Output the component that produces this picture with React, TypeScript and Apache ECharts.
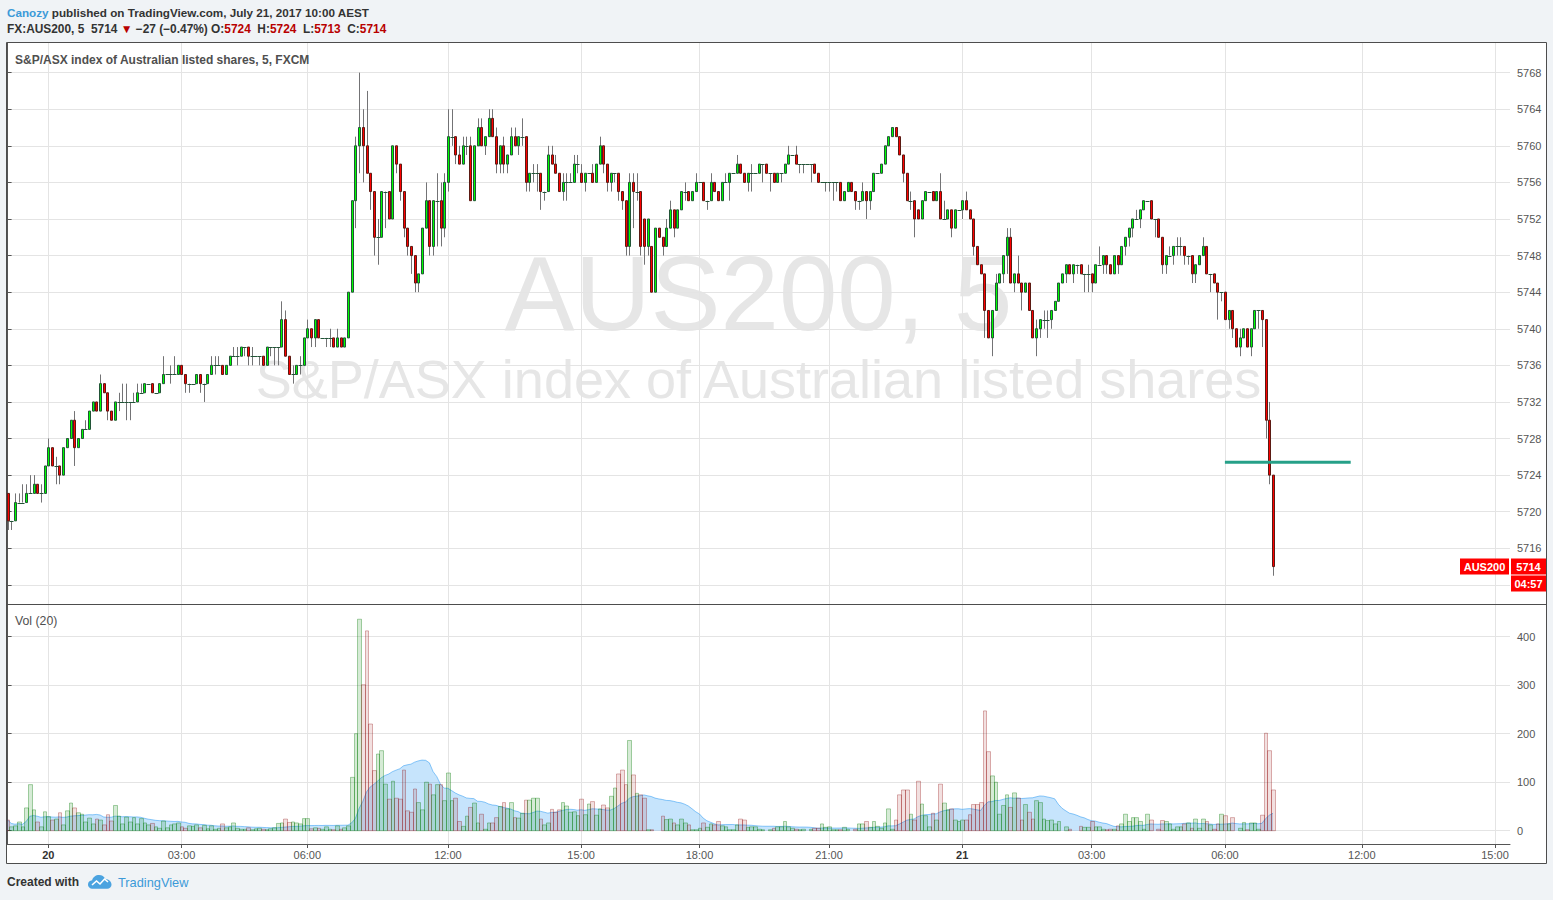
import React, { useEffect, useRef } from 'react';
import * as echarts from 'echarts';

// ---------- data ----------
const opens = [
  5722,5719,5719,5721,5721,5721,5722,5722,5723,5722,
  5722,5725,5727,5725,5725,5724,5727,5728,5730,5727,
  5728,5729,5729,5731,5732,5731,5734,5733,5731,5730,
  5732,5732,5732,5732,5732,5732,5733,5733,5734,5734,
  5733,5733,5734,5735,5735,5735,5735,5736,5735,5734,
  5734,5734,5735,5734,5734,5735,5736,5736,5736,5735,
  5736,5737,5737,5737,5738,5738,5737,5737,5737,5737,
  5736,5738,5738,5738,5738,5741,5737,5735,5735,5736,
  5736,5739,5740,5739,5741,5739,5739,5739,5739,5738,
  5739,5738,5739,5744,5754,5760,5762,5760,5757,5755,
  5750,5750,5755,5755,5752,5760,5758,5755,5751,5749,
  5748,5745,5746,5751,5754,5749,5754,5754,5751,5756,
  5761,5761,5759,5758,5760,5760,5754,5760,5762,5760,
  5761,5763,5761,5758,5760,5758,5759,5761,5760,5761,
  5761,5756,5757,5757,5757,5755,5755,5759,5758,5757,
  5755,5756,5756,5756,5758,5757,5756,5757,5757,5756,
  5758,5760,5758,5756,5757,5757,5755,5754,5749,5756,
  5755,5755,5752,5749,5749,5744,5751,5750,5749,5751,
  5753,5751,5753,5755,5755,5754,5755,5756,5756,5754,
  5754,5756,5755,5754,5756,5756,5757,5757,5758,5757,
  5756,5757,5757,5757,5758,5758,5757,5757,5756,5757,
  5757,5758,5759,5759,5758,5758,5758,5758,5758,5757,
  5756,5756,5756,5756,5756,5756,5754,5755,5756,5755,
  5754,5754,5755,5754,5755,5757,5757,5758,5760,5761,
  5762,5761,5759,5757,5754,5754,5753,5752,5754,5755,
  5755,5754,5755,5752,5752,5753,5751,5753,5753,5754,
  5753,5752,5749,5747,5746,5742,5739,5742,5745,5746,
  5748,5750,5745,5746,5745,5744,5745,5742,5739,5740,
  5741,5741,5741,5742,5743,5745,5746,5747,5746,5747,
  5747,5746,5746,5746,5745,5747,5747,5748,5747,5746,
  5748,5747,5749,5750,5751,5752,5752,5753,5754,5754,
  5752,5752,5750,5747,5748,5748,5749,5749,5749,5748,
  5748,5746,5747,5748,5749,5746,5746,5745,5744,5744,
  5741,5742,5740,5738,5739,5740,5738,5740,5742,5742,
  5741,5730,5724,
];
const highs = [
  5722,5719,5722,5722,5723,5723,5724,5724,5723,5723,
  5725,5728,5727,5726,5725,5727,5728,5730,5731,5728,
  5729,5730,5731,5732,5732,5735,5734,5733,5731,5732,
  5733,5734,5734,5732,5733,5734,5734,5734,5734,5734,
  5733,5734,5737,5735,5736,5737,5736,5736,5735,5734,
  5734,5735,5735,5734,5735,5737,5737,5737,5736,5736,
  5737,5738,5738,5738,5738,5738,5738,5737,5737,5737,
  5738,5738,5738,5738,5743,5742,5737,5736,5736,5737,
  5739,5741,5740,5741,5741,5739,5739,5740,5739,5740,
  5739,5739,5744,5754,5761,5768,5764,5766,5757,5755,
  5752,5755,5755,5755,5760,5760,5758,5755,5751,5749,
  5748,5746,5751,5756,5754,5754,5757,5756,5757,5764,
  5764,5761,5760,5761,5761,5761,5760,5763,5763,5761,
  5764,5764,5762,5760,5761,5759,5762,5762,5761,5763,
  5761,5757,5758,5758,5757,5755,5760,5760,5759,5757,
  5757,5757,5757,5759,5759,5758,5757,5757,5758,5758,
  5761,5760,5758,5757,5757,5757,5755,5754,5757,5757,
  5757,5755,5752,5752,5749,5751,5751,5750,5752,5754,
  5753,5753,5755,5756,5755,5755,5757,5756,5756,5754,
  5757,5756,5755,5756,5757,5757,5757,5759,5758,5757,
  5757,5758,5757,5758,5758,5758,5757,5757,5757,5757,
  5758,5760,5759,5760,5758,5758,5758,5758,5758,5757,
  5756,5756,5756,5756,5756,5756,5755,5756,5756,5755,
  5754,5756,5755,5755,5757,5757,5758,5760,5761,5762,
  5762,5761,5759,5757,5755,5754,5753,5754,5755,5755,
  5755,5755,5757,5754,5753,5753,5753,5753,5754,5755,
  5753,5752,5749,5747,5746,5742,5742,5746,5746,5748,
  5751,5751,5746,5748,5745,5745,5745,5742,5741,5741,
  5742,5742,5742,5743,5745,5746,5747,5747,5747,5747,
  5747,5746,5747,5746,5747,5749,5748,5748,5747,5748,
  5748,5749,5750,5751,5752,5753,5753,5754,5754,5754,
  5752,5752,5750,5748,5749,5749,5750,5750,5749,5748,
  5748,5747,5748,5750,5749,5746,5746,5745,5744,5744,
  5742,5742,5740,5740,5740,5740,5740,5742,5742,5742,
  5741,5732,5724,
];
const lows = [
  5718,5718,5719,5721,5721,5721,5722,5722,5722,5721,
  5722,5725,5725,5723,5723,5724,5727,5728,5725,5727,
  5728,5729,5729,5731,5731,5731,5733,5730,5730,5730,
  5731,5732,5730,5730,5732,5732,5733,5733,5734,5733,
  5733,5733,5734,5735,5734,5735,5735,5735,5733,5733,
  5734,5734,5733,5732,5734,5735,5735,5736,5735,5735,
  5736,5737,5736,5737,5737,5736,5736,5737,5736,5736,
  5736,5737,5736,5736,5738,5737,5735,5734,5735,5735,
  5736,5739,5738,5738,5739,5739,5738,5738,5738,5738,
  5738,5738,5739,5744,5751,5757,5756,5757,5753,5748,
  5747,5750,5751,5752,5752,5757,5754,5750,5748,5746,
  5744,5744,5746,5751,5748,5748,5749,5749,5750,5755,
  5760,5758,5758,5758,5759,5754,5754,5760,5760,5759,
  5761,5761,5757,5757,5757,5757,5759,5760,5759,5760,
  5755,5755,5756,5755,5753,5754,5755,5758,5757,5755,
  5754,5754,5756,5756,5757,5756,5755,5757,5756,5756,
  5758,5757,5755,5755,5756,5754,5753,5748,5748,5751,
  5754,5748,5747,5748,5744,5744,5750,5748,5749,5751,
  5750,5751,5753,5754,5754,5754,5755,5756,5754,5753,
  5754,5755,5754,5754,5756,5754,5757,5757,5757,5756,
  5755,5755,5757,5757,5756,5757,5755,5756,5756,5756,
  5757,5758,5759,5758,5757,5757,5758,5756,5757,5756,
  5756,5755,5755,5754,5755,5754,5754,5755,5755,5753,
  5753,5754,5752,5753,5755,5757,5757,5758,5760,5761,
  5761,5759,5756,5754,5753,5750,5752,5752,5754,5755,
  5754,5754,5752,5752,5752,5750,5751,5753,5752,5753,
  5752,5748,5747,5746,5739,5739,5737,5742,5745,5745,
  5746,5745,5744,5745,5742,5744,5742,5739,5737,5739,
  5740,5739,5740,5742,5743,5745,5745,5746,5745,5746,
  5746,5744,5744,5744,5745,5747,5746,5746,5746,5746,
  5746,5747,5748,5749,5750,5752,5751,5753,5754,5752,
  5750,5750,5746,5746,5748,5747,5748,5748,5747,5747,
  5745,5745,5747,5748,5746,5744,5745,5741,5743,5741,
  5740,5739,5738,5737,5739,5738,5737,5740,5740,5738,
  5728,5723,5713,
];
const closes = [
  5719,5719,5721,5721,5721,5722,5722,5723,5722,5722,
  5725,5727,5725,5725,5724,5727,5728,5730,5727,5728,
  5729,5729,5731,5732,5731,5734,5733,5731,5730,5732,
  5732,5732,5732,5732,5732,5733,5733,5734,5734,5733,
  5733,5734,5735,5735,5735,5735,5736,5735,5734,5734,
  5734,5735,5734,5734,5735,5736,5736,5736,5735,5736,
  5737,5737,5737,5738,5738,5737,5737,5737,5737,5736,
  5738,5738,5738,5738,5741,5737,5735,5735,5736,5736,
  5739,5740,5739,5741,5739,5739,5739,5739,5738,5739,
  5738,5739,5744,5754,5760,5762,5760,5757,5755,5750,
  5750,5755,5755,5752,5760,5758,5755,5751,5749,5748,
  5745,5746,5751,5754,5749,5754,5754,5751,5756,5761,
  5761,5759,5758,5760,5760,5754,5760,5762,5760,5761,
  5763,5761,5758,5760,5758,5759,5761,5760,5761,5761,
  5756,5757,5757,5757,5755,5755,5759,5758,5757,5755,
  5756,5756,5756,5758,5758,5756,5757,5757,5756,5758,
  5760,5758,5756,5757,5757,5755,5754,5749,5756,5755,
  5755,5749,5749,5752,5744,5751,5750,5749,5751,5753,
  5751,5753,5755,5755,5754,5755,5756,5756,5754,5754,
  5756,5755,5754,5756,5756,5757,5757,5758,5757,5756,
  5757,5757,5757,5758,5758,5757,5757,5756,5757,5757,
  5758,5759,5759,5758,5758,5758,5758,5758,5757,5756,
  5756,5756,5756,5756,5756,5754,5755,5756,5755,5754,
  5754,5755,5754,5755,5757,5757,5758,5760,5761,5762,
  5761,5759,5757,5754,5754,5752,5752,5754,5755,5755,
  5754,5755,5752,5752,5753,5751,5753,5753,5754,5753,
  5752,5749,5747,5746,5742,5739,5742,5745,5746,5748,
  5750,5745,5746,5745,5744,5745,5742,5739,5740,5741,
  5741,5741,5742,5743,5745,5746,5747,5746,5747,5747,
  5746,5746,5746,5745,5747,5747,5748,5747,5746,5748,
  5747,5749,5750,5751,5752,5752,5753,5754,5754,5752,
  5752,5750,5747,5748,5748,5749,5749,5749,5748,5748,
  5746,5747,5748,5749,5746,5746,5745,5744,5744,5741,
  5742,5740,5738,5739,5740,5738,5740,5742,5742,5741,
  5730,5724,5714,
];
const volumes = [
  22,8,10,18,8,47,95,43,18,8,
  39,29,22,24,37,12,41,57,47,37,
  34,18,26,14,24,22,12,33,20,52,
  30,14,28,18,27,14,25,16,12,15,
  8,5,20,6,12,14,16,8,5,10,
  9,12,6,11,4,10,3,5,14,6,
  8,16,5,3,3,6,2,4,5,3,
  2,4,6,15,16,24,17,18,16,14,
  25,25,4,6,5,3,8,3,2,10,
  3,6,10,110,200,436,301,412,220,124,
  158,165,96,65,102,67,65,125,41,38,
  86,58,43,100,96,74,95,95,62,119,
  62,67,19,9,30,48,57,16,34,3,
  16,16,27,50,58,45,58,27,26,36,
  63,63,67,67,24,12,16,44,38,43,
  58,51,38,39,31,65,33,55,60,32,
  45,53,47,71,88,117,125,95,186,115,
  77,74,67,2,2,0,0,30,23,24,
  16,12,24,16,12,2,2,5,16,7,
  14,12,19,10,8,2,2,12,24,22,
  7,8,8,3,2,0,2,5,8,8,
  19,8,5,3,2,3,0,3,5,5,
  14,7,8,2,2,2,7,3,0,3,
  14,14,19,7,19,9,5,16,45,3,
  22,74,84,84,34,22,102,55,31,8,
  36,22,96,57,43,45,22,19,22,22,
  33,54,54,58,247,163,113,100,34,52,
  74,48,78,67,22,54,38,24,62,58,
  24,21,22,14,19,0,8,3,0,0,
  9,7,7,19,8,8,3,2,3,3,
  10,14,34,19,27,27,19,3,34,22,
  0,3,21,19,14,3,8,8,14,16,
  5,24,5,24,19,12,3,14,34,31,
  14,27,0,5,17,2,16,16,3,32,
  201,165,84,
];

const priceTicks = [5712, 5716, 5720, 5724, 5728, 5732, 5736, 5740, 5744, 5748, 5752, 5756, 5760, 5764, 5768];
const volumeTicks = [0, 100, 200, 300, 400];
const timeTickIndex = [11, 47, 81, 119, 155, 187, 222, 258, 293, 329, 366, 402];
const timeTickLabels = ['20', '03:00', '06:00', '12:00', '15:00', '18:00', '21:00', '21', '03:00', '06:00', '12:00', '15:00'];
const dayLabels = ['20', '21'];
const maPeriod = 20;
const trendFromIdx = 329;
const trendToIdx = 363;
const trendPrice = 5725.4;

// ---------- layout / style ----------
const FONT = "'Liberation Sans', Arial, sans-serif";
const GRID_COLOR = '#e4e4e4';
const AXIS_COLOR = '#555';
const TEXT_COLOR = '#555';

const logoPath =
  'M5 15C2.2 15 0 13 0 10.4C0 8 1.8 6.2 4.2 6C5 2.6 8 0.5 11.3 0.5C14.2 0.5 16.7 2.2 17.8 4.8C21.2 4.9 24 7.5 24 10.8C24 13.2 22 15 19.6 15Z';
echarts.graphic.registerShape('tvCloud', echarts.graphic.extendPath(logoPath, {}) as any);

const lastIdx = closes.length - 1;
const lastOpen = opens[lastIdx];
const lastHigh = highs[lastIdx];
const lastLow = lows[lastIdx];
const lastClose = closes[lastIdx];

function buildOption(): any {
  const candleData = opens.map((o, i) => [i, o, closes[i], lows[i], highs[i]]);
  const volData = volumes.map((v, i) => [i, v, closes[i] >= opens[i] ? 1 : 0]);
  const maData = volumes.map((_, i) => {
    const s = Math.max(0, i - maPeriod + 1);
    let sum = 0;
    for (let k = s; k <= i; k++) sum += volumes[k];
    return [i, sum / (i - s + 1)];
  });
  const labelMap: Record<number, string> = {};
  timeTickIndex.forEach((idx, k) => (labelMap[idx] = timeTickLabels[k]));

  const xMin = (7 - 7.6) / 3.7;
  const xMax = (1510 - 7.6) / 3.7;

  const xCommon = {
    type: 'value',
    min: xMin,
    max: xMax,
    splitLine: { show: true, lineStyle: { color: GRID_COLOR, width: 1 } },
  };

  return {
    animation: false,
    backgroundColor: 'transparent',
    grid: [
      { left: 7, top: 43, width: 1503, height: 561 },
      { left: 7, top: 604, width: 1503, height: 240 },
    ],
    xAxis: [
      {
        ...xCommon,
        gridIndex: 0,
        axisLine: { show: false },
        axisTick: { show: false, customValues: timeTickIndex },
        axisLabel: { show: false, customValues: timeTickIndex },
      },
      {
        ...xCommon,
        gridIndex: 1,
        axisLine: { show: true, onZero: false, lineStyle: { color: AXIS_COLOR, width: 1 } },
        axisTick: { show: true, length: 4, customValues: timeTickIndex, lineStyle: { color: AXIS_COLOR } },
        axisLabel: {
          show: true,
          customValues: timeTickIndex,
          margin: 5,
          color: TEXT_COLOR,
          fontSize: 11,
          fontFamily: FONT,
          formatter: (v: number) => {
            const s = labelMap[Math.round(v)];
            if (!s) return '';
            return dayLabels.includes(s) ? `{b|${s}}` : s;
          },
          rich: { b: { fontWeight: 'bold', fontSize: 11, fontFamily: FONT, color: '#333' } },
        },
      },
    ],
    yAxis: [
      {
        type: 'value',
        gridIndex: 0,
        position: 'right',
        min: 5709.91,
        max: 5771.24,
        axisLine: { show: true, lineStyle: { color: AXIS_COLOR, width: 1 } },
        axisTick: { show: true, length: 4, customValues: priceTicks, lineStyle: { color: AXIS_COLOR } },
        axisLabel: {
          customValues: priceTicks,
          margin: 7,
          color: TEXT_COLOR,
          fontSize: 11,
          fontFamily: FONT,
          formatter: (v: number) => String(Math.round(v)),
        },
        splitLine: { show: true, lineStyle: { color: GRID_COLOR, width: 1 } },
      },
      {
        type: 'value',
        gridIndex: 1,
        position: 'right',
        min: -27.4,
        max: 467.4,
        axisLine: { show: true, lineStyle: { color: AXIS_COLOR, width: 1 } },
        axisTick: { show: true, length: 4, customValues: volumeTicks, lineStyle: { color: AXIS_COLOR } },
        axisLabel: {
          customValues: volumeTicks,
          margin: 7,
          color: TEXT_COLOR,
          fontSize: 11,
          fontFamily: FONT,
          formatter: (v: number) => String(Math.round(v)),
        },
        splitLine: { show: true, lineStyle: { color: GRID_COLOR, width: 1 } },
      },
    ],
    series: [
      {
        type: 'custom',
        name: 'AUS200',
        xAxisIndex: 0,
        yAxisIndex: 0,
        clip: true,
        z: 3,
        silent: true,
        data: candleData,
        encode: { x: 0, y: [1, 2, 3, 4] },
        renderItem: (_p: any, api: any) => {
          const i = api.value(0);
          const o = api.value(1);
          const c = api.value(2);
          const l = api.value(3);
          const h = api.value(4);
          const pO = api.coord([i, o]);
          const yC = api.coord([i, c])[1];
          const yL = api.coord([i, l])[1];
          const yH = api.coord([i, h])[1];
          const up = c >= o;
          const cx = Math.round(pO[0]) + 0.5;
          const top = Math.min(pO[1], yC);
          const bot = Math.max(pO[1], yC);
          const border = up ? '#225437' : '#5b1a13';
          const children: any[] = [];
          if (yL - yH > 0.5) {
            children.push({ type: 'line', shape: { x1: cx, y1: yH, x2: cx, y2: yL }, style: { stroke: '#737375', lineWidth: 1 } });
          }
          if (bot - top < 1) {
            const yy = Math.round(top) + 0.5;
            children.push({ type: 'line', shape: { x1: cx - 2, y1: yy, x2: cx + 2, y2: yy }, style: { stroke: border, lineWidth: 1 } });
          } else {
            children.push({
              type: 'rect',
              shape: { x: cx - 1, y: top, width: 2, height: bot - top },
              style: { fill: up ? '#00ff00' : '#ff0000', stroke: border, lineWidth: 1 },
            });
          }
          return { type: 'group', children };
        },
      },
      {
        type: 'line',
        name: 'trend',
        xAxisIndex: 0,
        yAxisIndex: 0,
        z: 4,
        silent: true,
        symbol: 'none',
        data: [[trendFromIdx, trendPrice], [trendToIdx, trendPrice]],
        lineStyle: { color: '#26a088', width: 3 },
      },
      {
        type: 'line',
        name: 'Vol MA',
        xAxisIndex: 1,
        yAxisIndex: 1,
        z: 1,
        silent: true,
        symbol: 'none',
        showSymbol: false,
        data: maData,
        lineStyle: { color: 'rgba(33,150,243,0.5)', width: 1 },
        areaStyle: { color: 'rgba(33,150,243,0.37)' },
      },
      {
        type: 'custom',
        name: 'Vol',
        xAxisIndex: 1,
        yAxisIndex: 1,
        clip: true,
        z: 2,
        silent: true,
        data: volData,
        encode: { x: 0, y: 1 },
        renderItem: (_p: any, api: any) => {
          const i = api.value(0);
          const v = api.value(1);
          const up = api.value(2) === 1;
          if (!(v > 0)) return null;
          const x0 = Math.round(api.coord([i - 0.5, 0])[0]);
          const x1 = Math.round(api.coord([i + 0.5, 0])[0]);
          const y0 = api.coord([i, 0])[1];
          const y1 = api.coord([i, v])[1];
          return {
            type: 'rect',
            shape: { x: x0 + 0.5, y: y1, width: Math.max(1, x1 - x0), height: y0 - y1 },
            style: {
              fill: up ? 'rgba(0,128,0,0.16)' : 'rgba(150,0,0,0.12)',
              stroke: up ? 'rgba(0,120,0,0.34)' : 'rgba(140,0,0,0.3)',
              lineWidth: 1,
            },
          };
        },
      },
    ],
  };
}

function buildGraphics(yLast: number): any[] {
  const g: any[] = [];
  // chart frame
  g.push({ type: 'rect', z: -10, silent: true, shape: { x: 6.5, y: 42.5, width: 1540, height: 821 }, style: { fill: '#ffffff', stroke: '#4d4d4d', lineWidth: 1 } });
  g.push({ type: 'line', z: 5, silent: true, shape: { x1: 7, y1: 604.5, x2: 1546, y2: 604.5 }, style: { stroke: '#4d4d4d', lineWidth: 1 } });
  // watermark
  g.push({ type: 'text', z: -5, silent: true, x: 758.5, y: 293, style: { text: 'AUS200, 5', fill: '#e6e6e6', font: `105px ${FONT}`, align: 'center', verticalAlign: 'middle' } });
  g.push({ type: 'text', z: -5, silent: true, x: 758.5, y: 379, style: { text: 'S&P/ASX index of Australian listed shares', fill: '#e6e6e6', font: `54px ${FONT}`, align: 'center', verticalAlign: 'middle' } });
  // header
  g.push({
    type: 'text', z: 10, silent: true, x: 7, y: 12,
    style: {
      text: '{u|Canozy} {t|published on TradingView.com, July 21, 2017 10:00 AEST}',
      font: `bold 11.7px ${FONT}`, fill: '#333', verticalAlign: 'middle', align: 'left',
      rich: {
        u: { fill: '#3c9ad8', font: `bold 11.7px ${FONT}` },
        t: { fill: '#333', font: `bold 11.7px ${FONT}` },
      },
    },
  });
  g.push({
    type: 'text', z: 10, silent: true, x: 7, y: 29,
    style: {
      text: `{t|FX:AUS200, 5  ${lastClose} }{r|▼}{t| −27 (−0.47%) O:}{r|${lastOpen}}{t|  H:}{r|${lastHigh}}{t|  L:}{r|${lastLow}}{t|  C:}{r|${lastClose}}`,
      font: `bold 11.9px ${FONT}`, fill: '#333', verticalAlign: 'middle', align: 'left',
      rich: {
        t: { fill: '#333', font: `bold 11.9px ${FONT}` },
        r: { fill: '#b80000', font: `bold 11.9px ${FONT}` },
      },
    },
  });
  // pane titles
  g.push({ type: 'text', z: 10, silent: true, x: 15, y: 60, style: { text: 'S&P/ASX index of Australian listed shares, 5, FXCM', fill: '#4f4f4f', font: `bold 12px ${FONT}`, verticalAlign: 'middle', align: 'left' } });
  g.push({ type: 'text', z: 10, silent: true, x: 15, y: 621, style: { text: 'Vol (20)', fill: '#4f4f4f', font: `12.3px ${FONT}`, verticalAlign: 'middle', align: 'left' } });
  // last price labels
  g.push({ type: 'rect', z: 100, silent: true, shape: { x: 1460, y: yLast - 8, width: 49, height: 16 }, style: { fill: '#ff0000' } });
  g.push({ type: 'text', z: 101, silent: true, x: 1484.5, y: yLast, style: { text: 'AUS200', fill: '#fff', font: `bold 11px ${FONT}`, align: 'center', verticalAlign: 'middle' } });
  g.push({ type: 'rect', z: 100, silent: true, shape: { x: 1511, y: yLast - 8, width: 35, height: 16 }, style: { fill: '#ff0000' } });
  g.push({ type: 'text', z: 101, silent: true, x: 1528.5, y: yLast, style: { text: String(lastClose), fill: '#fff', font: `bold 11px ${FONT}`, align: 'center', verticalAlign: 'middle' } });
  g.push({ type: 'rect', z: 100, silent: true, shape: { x: 1511, y: yLast + 9, width: 35, height: 16 }, style: { fill: '#ff0000' } });
  g.push({ type: 'text', z: 101, silent: true, x: 1528.5, y: yLast + 17, style: { text: '04:57', fill: '#fff', font: `bold 11px ${FONT}`, align: 'center', verticalAlign: 'middle' } });
  // footer
  g.push({ type: 'text', z: 10, silent: true, x: 7, y: 882, style: { text: 'Created with', fill: '#333', font: `bold 12px ${FONT}`, verticalAlign: 'middle', align: 'left' } });
  g.push({ type: 'tvCloud', z: 10, silent: true, x: 88, y: 874.5, scaleX: 0.98, scaleY: 0.95, style: { fill: '#4ba3e0' } });
  g.push({ type: 'polyline', z: 11, silent: true, shape: { points: [[92, 885], [96.5, 881], [100, 884], [104.5, 879], [108, 882]] }, style: { stroke: '#fff', lineWidth: 1.6, fill: null } });
  g.push({ type: 'text', z: 10, silent: true, x: 118, y: 882, style: { text: 'TradingView', fill: '#3c9ad8', font: `12.8px ${FONT}`, verticalAlign: 'middle', align: 'left' } });
  return g;
}

export default function App() {
  const ref = useRef<HTMLDivElement>(null);
  useEffect(() => {
    const el = ref.current;
    if (!el) return;
    const chart = echarts.init(el, null, { renderer: 'svg' });
    chart.setOption(buildOption());
    const yLast = chart.convertToPixel({ yAxisIndex: 0 }, lastClose) as unknown as number;
    chart.setOption({ graphic: { elements: buildGraphics(yLast) } });
    return () => chart.dispose();
  }, []);
  return (
    <div
      ref={ref}
      style={{ position: 'fixed', left: 0, top: 0, width: 1553, height: 900, background: '#f0f3f6' }}
    />
  );
}
